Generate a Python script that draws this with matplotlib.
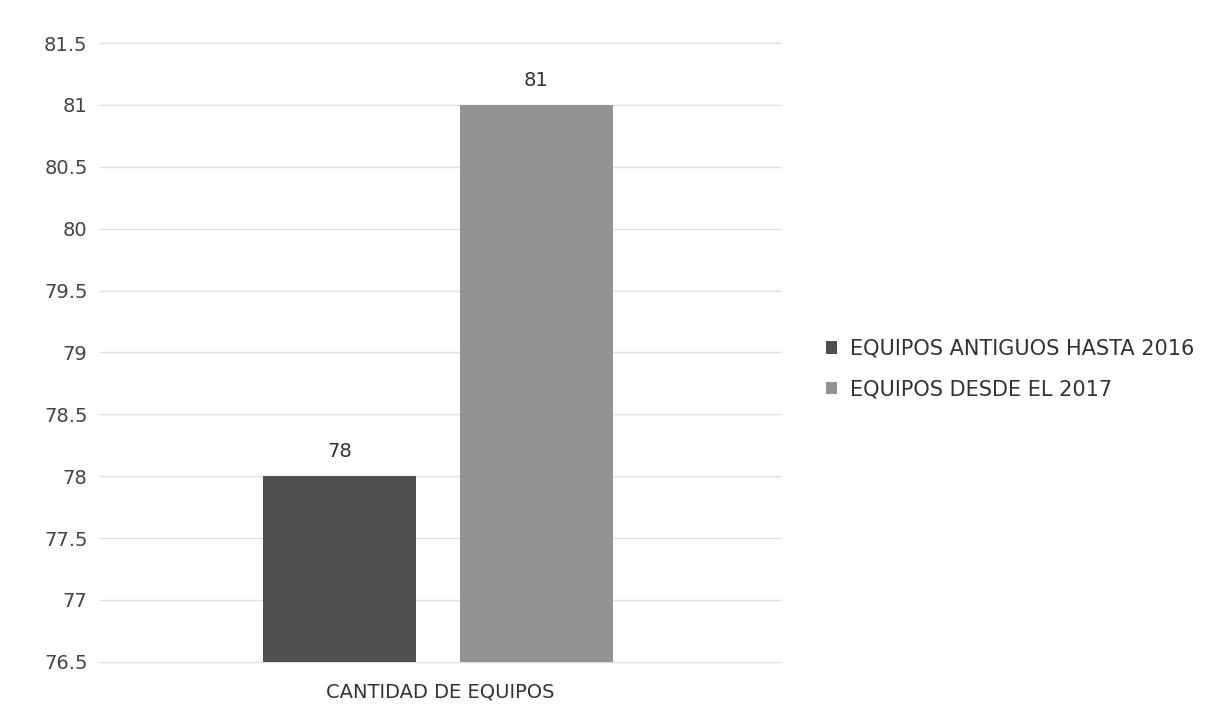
import matplotlib
matplotlib.use("Agg")
import matplotlib.pyplot as plt
import numpy as np

category = "CANTIDAD DE EQUIPOS"
series_names = ["EQUIPOS ANTIGUOS HASTA 2016", "EQUIPOS DESDE EL 2017"]
series_values = [78, 81]
colors = ["#4f4f4f", "#939393"]
yticks = np.arange(76.5, 81.51, 0.5)

fig = plt.figure(figsize=(12.05, 7.17), dpi=100)
ax = fig.add_axes([0.083, 0.077, 0.564, 0.863])

offsets = [-0.147, 0.142]
width = 0.225
for off, val, name, col in zip(offsets, series_values, series_names, colors):
    ax.bar(off, val - 76.5, bottom=76.5, width=width, color=col, label=name, zorder=3)
    ax.text(off, val + 0.12, f"{val}", ha="center", va="bottom", fontsize=14, color="#333333")

ax.set_xlim(-0.5, 0.5)
ax.set_ylim(76.5, 81.5)
ax.set_yticks(yticks)
ax.set_yticklabels([f"{v:g}" for v in yticks], fontsize=14, color="#444444")
ax.set_xticks([0])
ax.set_xticklabels([category], fontsize=14, color="#333333")
ax.tick_params(length=0)
ax.tick_params(axis="x", pad=15)
ax.tick_params(axis="y", pad=9)
ax.grid(axis="y", color="#e0e0e0", linewidth=1, zorder=0)
for line in ax.get_ygridlines():
    line.set_clip_on(False)
for s in ax.spines.values():
    s.set_visible(False)

ax.legend(loc="center left", bbox_to_anchor=(1.04, 0.473), frameon=False,
          fontsize=15, handlelength=0.55, handleheight=0.55, handletextpad=0.6,
          labelspacing=1.0, labelcolor="#333333")

fig.savefig("out.png", dpi=100)
